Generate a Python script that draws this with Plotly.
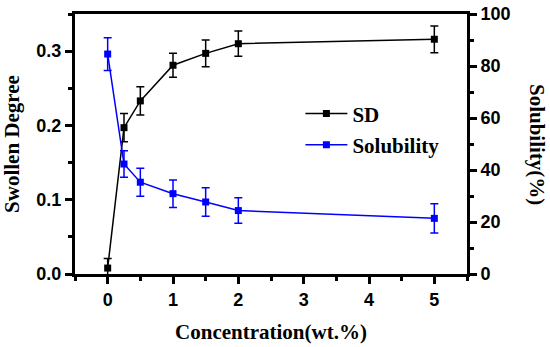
import plotly.graph_objects as go

conc = [0, 0.25, 0.5, 1, 1.5, 2, 5]
sd = [0.008, 0.197, 0.233, 0.281, 0.297, 0.310, 0.316]
sd_err = [0.013, 0.019, 0.019, 0.016, 0.018, 0.017, 0.018]
sol = [84.6, 42.3, 35.3, 30.9, 27.7, 24.4, 21.4]
sol_err = [6.3, 5.1, 5.4, 5.3, 5.5, 4.9, 5.6]

serif = "Liberation Serif, Times New Roman, serif"
sans = "Liberation Sans, Arial, sans-serif"

fig = go.Figure()
fig.add_trace(go.Scatter(
    x=conc, y=sd, name="SD", mode="lines+markers",
    line=dict(color="black", width=1.5),
    marker=dict(symbol="square", size=7, color="black"),
    error_y=dict(type="data", array=sd_err, color="black", thickness=1.5, width=4),
    legendgroup="a",
))
fig.add_trace(go.Scatter(
    x=conc, y=sol, name="Solubility", mode="lines+markers", yaxis="y2",
    line=dict(color="#0000ff", width=1.5),
    marker=dict(symbol="square", size=7, color="#0000ff"),
    error_y=dict(type="data", array=sol_err, color="#0000ff", thickness=1.5, width=4),
    legendgroup="b",
))

axis_common = dict(showline=True, linecolor="black", linewidth=3, ticks="outside",
                   ticklen=7, tickwidth=2.5, tickcolor="black", showgrid=False, zeroline=False,
                   automargin=False, ticklabeloverflow="allow",
                   tickfont=dict(family=sans, size=18, color="black", weight="bold"))
title_font = dict(family=serif, size=21, color="black", weight="bold")

fig.update_layout(
    width=550, height=347,
    margin=dict(l=75, r=83, t=14, b=73),
    plot_bgcolor="white", paper_bgcolor="white",
    xaxis=dict(range=[-0.5, 5.5], dtick=1, mirror=True,
               minor=dict(dtick=0.5, ticks="outside", ticklen=4, tickwidth=2.5, tickcolor="black"),
               title=dict(text="Concentration(wt.%)", font=title_font, standoff=16),
               **axis_common),
    yaxis=dict(range=[0, 0.35], dtick=0.1, tickformat=".1f", mirror=True,
               minor=dict(dtick=0.05, ticks="outside", ticklen=4, tickwidth=2.5, tickcolor="black"),
               title=dict(text="Swollen Degree", font=title_font, standoff=21),
               **axis_common),
    yaxis2=dict(range=[0, 100], dtick=20, overlaying="y", side="right",
                minor=dict(dtick=10, ticks="outside", ticklen=4, tickwidth=2.5, tickcolor="black"),
                **axis_common),
    legend=dict(x=0.575, y=0.695, xanchor="left", yanchor="top", traceorder="grouped",
                tracegroupgap=1, itemwidth=42, bgcolor="rgba(0,0,0,0)",
                font=dict(family=serif, size=21, color="black", weight="bold")),
    annotations=[dict(text="Solubility(%)", textangle=90, xref="paper", yref="paper",
                      x=1.0, y=0.5, xanchor="center", yanchor="middle", xshift=70,
                      showarrow=False, font=title_font)],
)

# remove the default 8px page margin so the figure sits at the window's corner
fig.write_html("out.html", config={"displayModeBar": False},
               post_script="document.body.style.margin='0';")
